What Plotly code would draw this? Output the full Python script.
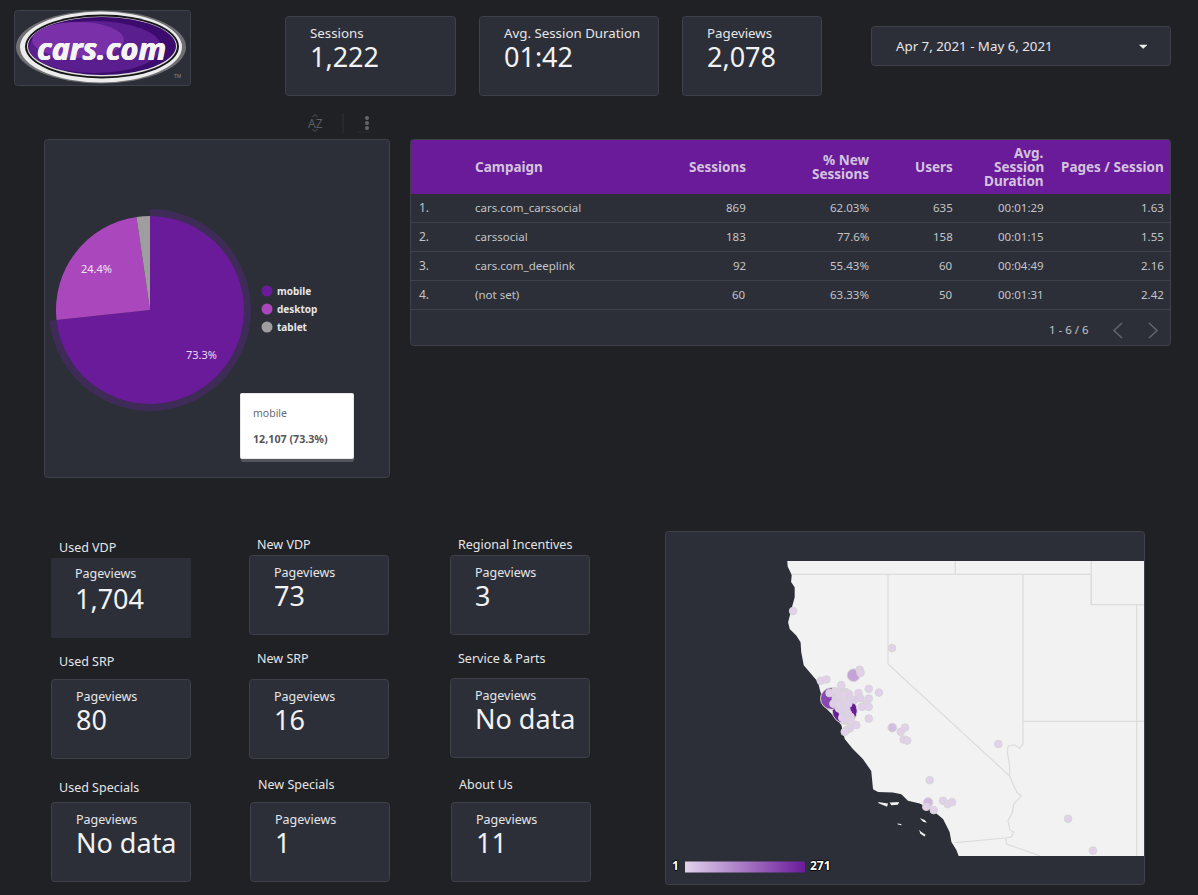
import numpy as np
import plotly.graph_objects as go

W, H = 1198, 895
BG = '#1f2125'
CARD = '#2c2f38'
EDGE = '#3e4149'
PURPLE = '#6a1b9a'
FONT = 'Noto Sans'

# Device pie
devices = ['mobile', 'desktop', 'tablet']
device_pageviews = [12107, 4030, 380]
device_colors = [PURPLE, '#ab47bc', '#9e9e9e']

# Campaign table
table_headers = [['Campaign'], ['Sessions'], ['% New', 'Sessions'], ['Users'], ['Avg.', 'Session', 'Duration'],
                 ['Pages / Session']]
campaigns = ['cars.com_carssocial', 'carssocial', 'cars.com_deeplink', '(not set)']
sessions = ['869', '183', '92', '60']
pct_new = ['62.03%', '77.6%', '55.43%', '63.33%']
users = ['635', '158', '60', '50']
durations = ['00:01:29', '00:01:15', '00:04:49', '00:01:31']
pages_per_session = ['1.63', '1.55', '2.16', '2.42']

# Scorecards
top_titles = ['Sessions', 'Avg. Session Duration', 'Pageviews']
top_values = ['1,222', '01:42', '2,078']
page_names = ['Used VDP', 'New VDP', 'Regional Incentives', 'Used SRP', 'New SRP', 'Service & Parts',
              'Used Specials', 'New Specials', 'About Us']
page_values = ['1,704', '73', '3', '80', '16', 'No data', 'No data', '1', '11']

# Map bubbles, biggest first so the small ones sit on top
city_lon = [-121.91, -122.50, -121.52, -119.81, -118.23, -122.97, -122.72, -121.25, -121.21, -122.06, -120.85,
            -120.40, -122.58, -122.33, -122.15, -121.87, -121.72, -121.30, -121.22, -121.47, -120.85, -120.96,
            -120.85, -121.15, -122.31, -122.02, -122.41, -122.16, -121.99, -121.81, -121.91, -121.65, -121.91,
            -121.40, -121.66, -121.69, -121.84, -121.91, -120.85, -119.44, -119.25, -119.31, -119.15, -118.16,
            -118.31, -117.98, -117.57, -117.37, -117.17, -115.13, -112.05, -110.95, -119.82, -124.19,
            -122.13, -121.94, -121.75, -122.21, -122.02, -121.84, -121.77, -122.02, -121.81, -122.13, -121.96,
            -121.62]
city_lat = [37.37, 37.80, 38.61, 36.78, 34.09, 38.42, 38.46, 38.80, 38.69, 38.27, 38.14,
            38.01, 37.99, 38.06, 38.04, 38.03, 37.96, 37.99, 37.81, 37.76, 37.80, 37.62,
            37.51, 37.51, 37.80, 37.83, 37.62, 37.45, 37.28, 37.74, 37.57, 37.16, 37.02,
            36.87, 36.93, 36.75, 36.69, 36.63, 37.10, 36.63, 36.78, 36.36, 36.32, 34.90,
            33.93, 33.81, 34.15, 34.03, 34.10, 36.20, 33.49, 32.31, 39.54, 40.79,
            37.68, 37.71, 37.62, 37.59, 37.43, 37.43, 37.28, 37.13, 37.08, 37.91, 37.94,
            36.99]
city_views = [271, 205, 70, 33, 39, 3, 4, 6, 5, 4, 3,
              3, 8, 6, 7, 8, 6, 4, 5, 8, 3, 4,
              3, 5, 9, 8, 9, 8, 9, 7, 9, 8, 6,
              5, 7, 6, 4, 3, 3, 4, 4, 3, 3, 3,
              5, 4, 4, 3, 4, 3, 3, 2, 3, 2,
              7, 6, 5, 6, 8, 7, 6, 5, 6, 5, 4,
              4]

# Base map outlines, lon/lat
coast_lon = [-124.46, -124.43, -124.25, -124.28, -124.12, -124.12, -124.22, -124.30, -124.41, -124.34, -124.05,
             -123.86, -123.83, -123.72, -123.38, -123.09, -122.99, -122.87, -122.80, -122.43, -122.06, -121.91,
             -121.55, -121.10, -120.74, -120.66, -120.44, -119.78, -119.41, -119.12, -118.60, -118.09, -117.57,
             -117.28, -117.20, -116.98, -116.88]
coast_lat = [42.44, 42.26, 41.98, 41.75, 41.58, 41.25, 40.97, 40.75, 40.41, 40.19, 39.97,
             39.74, 39.40, 38.95, 38.66, 38.38, 38.05, 37.80, 37.51, 37.22, 36.87, 36.38,
             36.02, 35.65, 35.23, 34.57, 34.47, 34.45, 34.39, 34.15, 34.05, 33.84, 33.48,
             33.00, 32.63, 32.33, 32.11]
islands = [
    ([-120.44, -120.19, -120.00, -120.04, -120.22, -120.41], [34.11, 34.06, 34.05, 33.93, 33.99, 34.06]),
    ([-119.93, -119.51, -119.56, -119.85], [34.09, 34.11, 34.01, 33.99]),
    ([-118.60, -118.38, -118.28, -118.45], [33.52, 33.45, 33.34, 33.38]),
    ([-119.60, -119.41, -119.41, -119.56], [33.32, 33.30, 33.25, 33.28]),
    ([-118.63, -118.53, -118.34, -118.38, -118.57], [33.09, 33.00, 32.90, 32.84, 32.94]),
]
borders = [
    ([-124.25, -111.03], [42.0, 42.0]),
    ([-117.03, -117.03], [42.0, 43.0]),
    ([-111.03, -111.03, -108.0], [43.0, 41.0, 41.0]),
    ([-111.03, -111.03], [42.0, 41.0]),
    ([-109.02, -109.02], [41.0, 32.0]),
    ([-120.0, -120.0, -114.63], [42.0, 39.0, 35.05]),
    ([-114.04, -114.04, -114.19, -114.41, -114.70, -114.73, -114.63, -114.63, -114.48, -114.30, -114.11, -114.45,
      -114.51, -114.70, -114.63, -114.45, -114.55, -114.78, -117.06],
     [42.0, 36.20, 36.04, 36.17, 36.12, 35.90, 35.42, 35.05, 34.75, 34.45, 34.33, 34.03,
      33.72, 33.42, 33.09, 33.00, 32.82, 32.78, 32.61]),
    ([-114.78, -114.78, -113.27], [32.78, 32.56, 32.11]),
    ([-114.04, -108.0], [37.0, 37.0]),
]


def merc(lat):
    return np.log(np.tan(np.pi / 4 + np.radians(np.asarray(lat, dtype=float)) / 2))


def px(x):
    return x / W


def py(y):
    return 1 - y / H


shapes = []
annotations = []


def card(x0, y0, x1, y1, fill=CARD, line=EDGE, r=3):
    # keep the 1px border on whole pixels
    x0, y0, x1, y1 = x0 + 0.5, y0 + 0.5, x1 - 0.5, y1 - 0.5
    path = (f'M {px(x0 + r)} {py(y0)} L {px(x1 - r)} {py(y0)} Q {px(x1)} {py(y0)} {px(x1)} {py(y0 + r)} '
            f'L {px(x1)} {py(y1 - r)} Q {px(x1)} {py(y1)} {px(x1 - r)} {py(y1)} '
            f'L {px(x0 + r)} {py(y1)} Q {px(x0)} {py(y1)} {px(x0)} {py(y1 - r)} '
            f'L {px(x0)} {py(y0 + r)} Q {px(x0)} {py(y0)} {px(x0 + r)} {py(y0)} Z')
    shapes.append(dict(type='path', path=path, xref='paper', yref='paper', fillcolor=fill,
                       line=dict(color=line, width=1), layer='below'))


def rect(x0, y0, x1, y1, fill):
    shapes.append(dict(type='rect', xref='paper', yref='paper', x0=px(x0), x1=px(x1), y0=py(y0), y1=py(y1),
                       fillcolor=fill, line=dict(width=0), layer='below'))


def line(x0, y0, x1, y1, color, width=1):
    shapes.append(dict(type='line', xref='paper', yref='paper', x0=px(x0), x1=px(x1), y0=py(y0), y1=py(y1),
                       line=dict(color=color, width=width), layer='below'))


def oval(cx, cy, rx, ry, fill):
    shapes.append(dict(type='circle', xref='paper', yref='paper', x0=px(cx - rx), x1=px(cx + rx), y0=py(cy - ry),
                       y1=py(cy + ry), fillcolor=fill, line=dict(width=0), layer='below'))


def polyline(points, color, width=1.5, fill=None):
    path = 'M ' + ' L '.join(f'{px(a)} {py(b)}' for a, b in points)
    if fill:
        path += ' Z'
    shapes.append(dict(type='path', path=path, xref='paper', yref='paper', line=dict(color=color, width=width),
                       fillcolor=fill, layer='below'))


def label(x, y, s, size=14, color='#e6e6e8', anchor='left', family=FONT, **font_extra):
    annotations.append(dict(x=px(x), y=py(y - 0.4), xref='paper', yref='paper', text=s, showarrow=False,
                            xanchor=anchor, yanchor='middle', align=anchor, borderpad=0, borderwidth=0,
                            font=dict(size=size, color=color, family=family, **font_extra)))


# Logo
card(14, 10, 191, 86)
oval(101, 47, 85, 36.5, '#707074')
oval(101, 47, 81, 35.5, '#ececec')
oval(102, 46.5, 77, 32, '#18181a')
oval(102, 46.5, 75, 30, '#dcdcdc')
oval(102, 46, 74, 29, '#3c0b6e')
oval(95, 47, 66, 26, '#5a1e8e')
oval(78, 40, 46, 18, '#7a30a8')
label(101, 48, '<b><i>cars.com</i></b>', size=30.5, color='#f4f4f4', anchor='center', family='Open Sans',
      shadow='0.5px 0 0 #f4f4f4, -0.5px 0 0 #f4f4f4')
label(178, 76, 'TM', size=5, color='#8a8a8a', anchor='center')

# Top scorecards
for box, title, value in zip([(285, 16, 456, 96), (479, 16, 659, 96), (682, 16, 822, 96)], top_titles, top_values):
    card(*box)
    label(box[0] + 25, 33, title, size=13.3)
    label(box[0] + 25, 57, value, size=27, color='#f2f2f2')

# Date control
card(871, 26, 1171, 66)
label(896, 46, 'Apr 7, 2021 - May 6, 2021', size=13.3)
polyline([(1139.5, 45), (1147, 45), (1143.2, 48.5)], '#f0f0f0', 0.5, fill='#f0f0f0')

# Chart toolbar
label(315, 124, 'AZ', size=12, color='#5c5e64', anchor='center')
polyline([(312.5, 117), (315, 114.5), (317.5, 117)], '#55575c', 1)
polyline([(312.5, 129), (315, 131.5), (317.5, 129)], '#55575c', 1)
line(343, 113, 343, 133, '#303238')
line(357, 132, 370, 132, '#2b2d31')
for dot_y in (118, 123, 128):
    oval(367, dot_y, 2, 2, '#64666c')

# Pie card, legend and tooltip
card(44, 139, 390, 478)
label(96, 269, '24.4%', size=11, color='#f0e4f4', anchor='center')
label(201, 355, '73.3%', size=11, color='#e8dcf0', anchor='center')
for dot_y, name, color in zip((291, 309, 327), devices, device_colors):
    oval(267, dot_y, 5.5, 5.5, color)
    label(277, dot_y, f'<b>{name}</b>', size=10)
card(241, 397, 354, 462, fill='#55565c', line='#55565c', r=1)
card(240, 393, 354, 459, fill='#ffffff', line='#e8e8e8', r=1)
label(253, 413, 'mobile', size=10.5, color='#6a6a70')
label(253, 439, f'<b>{device_pageviews[0]:,} (73.3%)</b>', size=10.7, color='#55565c')

# Campaign table
card(410, 139, 1171, 346)
rect(411, 140, 1170, 194, PURPLE)
header_x = [474.5, 746, 869, 953, 1044, 1164]
for x, head in zip(header_x, table_headers):
    for j, part in enumerate(head):
        label(x, 167 + 14 * (j - (len(head) - 1) / 2), f'<b>{part}</b>', size=13.5, color='#d3c3de',
              anchor='left' if x < 500 else 'right')
columns = [campaigns, sessions, pct_new, users, durations, pages_per_session]
for i, row_y in enumerate((208, 237, 266, 295)):
    label(419, row_y, f'{i + 1}.', size=12, color='#c4c4c8')
    for x, column in zip(header_x, columns):
        label(x, row_y, column[i], size=11.5, color='#c4c4c8', anchor='left' if x < 500 else 'right')
    line(411, row_y + 14.5, 1170, row_y + 14.5, '#3e4149')
label(1089, 330, '1 - 6 / 6', size=11.5, color='#c4c4c8', anchor='right')
polyline([(1122, 323), (1114, 330.5), (1122, 338)], '#63656c')
polyline([(1149, 323), (1157, 330.5), (1149, 338)], '#63656c')

# Page scorecards
page_boxes = [(51, 558, 191, 638), (249, 555, 389, 635), (450, 555, 590, 635),
              (51, 679, 191, 759), (249, 679, 389, 759), (450, 678, 590, 758),
              (51, 802, 191, 882), (250, 802, 390, 882), (451, 802, 591, 882)]
name_pos = [(59, 547), (257, 544), (458, 544), (59, 661), (257, 658), (458, 658), (59, 787), (258, 784), (459, 784)]
for i, (box, name, value) in enumerate(zip(page_boxes, page_names, page_values)):
    inset = 24 if i == 0 else 25
    card(*box, line=CARD if i == 0 else EDGE, r=0 if i == 0 else 3)
    label(name_pos[i][0], name_pos[i][1] + 0.7, name, size=12.5)
    label(box[0] + inset, box[1] + (16.3 if i == 0 else 17.7), 'Pageviews', size=12.5)
    label(box[0] + inset, box[1] + 41, value, size=27, color='#f2f2f2')

# Map card
card(665, 531, 1145, 885)
label(675, 866, '<b>1</b>', size=12, color='#ffffff', anchor='center',
      shadow='1px 0 0 #000, -1px 0 0 #000, 0 1px 0 #000, 0 -1px 0 #000')
label(820, 866, '<b>271</b>', size=12, color='#ffffff', anchor='center',
      shadow='1px 0 0 #000, -1px 0 0 #000, 0 1px 0 #000, 0 -1px 0 #000')

fig = go.Figure()

# Pie plus the hover ring around the mobile slice
pie_x, pie_y = 150, 310
fig.add_trace(go.Pie(
    labels=devices, values=device_pageviews, sort=False, direction='clockwise', rotation=0,
    marker=dict(colors=['#3f2b58', 'rgba(0,0,0,0)', 'rgba(0,0,0,0)'], line=dict(width=0)),
    hole=94 / 101, textinfo='none', hoverinfo='skip', showlegend=False,
    domain=dict(x=[px(pie_x - 101), px(pie_x + 101)], y=[py(pie_y + 101), py(pie_y - 101)]),
))
fig.add_trace(go.Pie(
    labels=devices, values=device_pageviews, sort=False, direction='clockwise', rotation=0,
    marker=dict(colors=device_colors, line=dict(width=0)),
    textinfo='none', hoverinfo='label+value+percent', showlegend=False,
    domain=dict(x=[px(pie_x - 94), px(pie_x + 94)], y=[py(pie_y + 94), py(pie_y - 94)]),
))

# Land, islands, state lines, bubbles
land_lon = [-124.5] + coast_lon + [-105, -105]
land_lat = [43] + coast_lat + [32.11, 43]
fig.add_trace(go.Scatter(x=land_lon, y=merc(land_lat), mode='lines', fill='toself', fillcolor='#f2f2f2',
                         line=dict(width=0), hoverinfo='skip', showlegend=False, xaxis='x', yaxis='y'))
for lons, lats in islands:
    fig.add_trace(go.Scatter(x=lons, y=merc(lats), mode='lines', fill='toself', fillcolor='#f2f2f2',
                             line=dict(width=0), hoverinfo='skip', showlegend=False))
for lons, lats in borders:
    fig.add_trace(go.Scatter(x=lons, y=merc(lats), mode='lines', line=dict(color='#dcdcdc', width=1.2),
                             hoverinfo='skip', showlegend=False))
fig.add_trace(go.Scatter(
    x=city_lon, y=merc(city_lat), mode='markers', showlegend=False,
    marker=dict(
        size=city_views, sizemode='area', sizeref=2 * 271 / 25 ** 2, sizemin=3.8,
        color=city_views, cmin=1, cmax=271, colorscale=[[0, '#e3d2ec'], [1, PURPLE]],
        line=dict(color='#d6d6d6', width=1), opacity=1,
        colorbar=dict(orientation='h', x=px(685), xanchor='left', y=py(866.5), yanchor='middle', len=120,
                      lenmode='pixels', thickness=11, thicknessmode='pixels', outlinewidth=0, ticks='',
                      showticklabels=False, xpad=0, ypad=0),
    ),
))

fig.update_layout(
    width=W, height=H, margin=dict(l=0, r=0, t=0, b=0), autosize=False,
    paper_bgcolor=BG, plot_bgcolor='rgba(0,0,0,0)', font=dict(family=FONT),
    shapes=shapes, annotations=annotations,
    xaxis=dict(domain=[px(667), px(1144)], range=[-120 + (667 - 888) / 22.65, -120 + (1144 - 888) / 22.65],
               visible=False, fixedrange=True),
    yaxis=dict(domain=[py(856), py(561)], range=[float(merc(32.11)), float(merc(42.44))],
               visible=False, fixedrange=True),
)

fig.write_html('out.html', config=dict(displayModeBar=False),
               post_script="document.body.style.margin='0';document.body.style.overflow='hidden';")
